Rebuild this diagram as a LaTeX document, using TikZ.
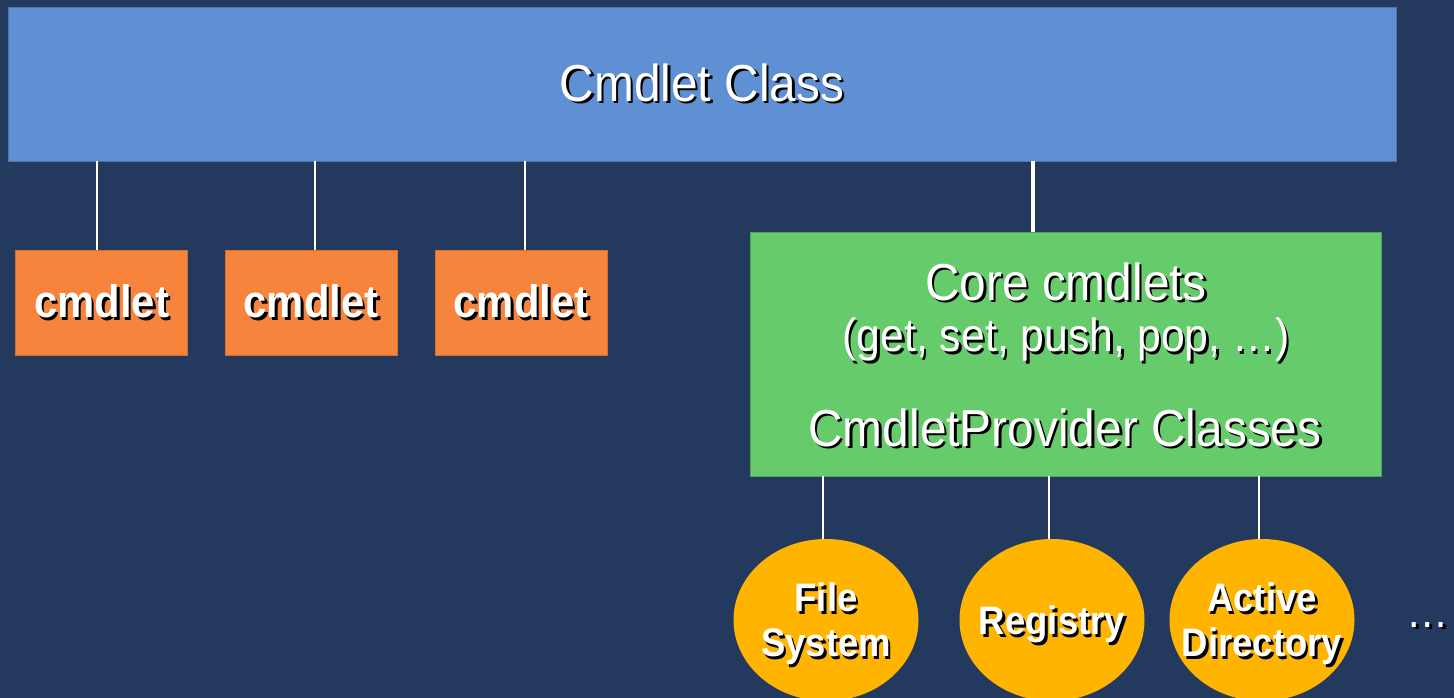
\documentclass[tikz,border=0pt]{standalone}
\usepackage{fontspec}
\setmainfont{Liberation Sans}[FakeStretch=0.92]
\usetikzlibrary{shapes.geometric}

\definecolor{slidebg}{RGB}{35,57,94}
\definecolor{clsblue}{RGB}{95,144,212}
\definecolor{cmdorange}{RGB}{247,132,60}
\definecolor{provgreen}{RGB}{102,204,107}
\definecolor{drvyellow}{RGB}{255,180,0}

% white text with a dark drop shadow
\newcommand\shtext[1]{\leavevmode\rlap{\kern2.5pt\raisebox{-2.5pt}{\color{black}#1}}#1}

\begin{document}
\begin{tikzpicture}[x=1pt,y=-1pt,
  classbox/.style={rectangle,inner sep=0pt,fill=clsblue,draw=clsblue!80!black,line width=0.6pt,
    minimum width=1388pt,minimum height=154pt,text=white,font=\fontsize{52}{60}\selectfont},
  cmdbox/.style={rectangle,inner sep=0pt,fill=cmdorange,draw=cmdorange!85!black,line width=0.6pt,
    minimum width=172pt,minimum height=105pt,text=white,font=\fontsize{45.5}{52}\selectfont\bfseries},
  provbox/.style={rectangle,inner sep=0pt,fill=provgreen,draw=provgreen!80!black,line width=0.6pt,
    minimum width=631pt,minimum height=244pt},
  drive/.style={ellipse,inner sep=0pt,fill=drvyellow,minimum width=185pt,minimum height=162pt},
  drivename/.style={inner sep=0pt,text=white,align=center,font=\fontsize{39.7}{45}\selectfont\bfseries},
  lbl/.style={inner sep=0pt,text=white},
  link/.style={draw=white,line width=1.5pt},
  mainlink/.style={draw=white,line width=4pt}]

\fill[slidebg] (0,0) rectangle (1454,698);
\useasboundingbox (0,0) rectangle (1454,698);

\node[classbox] (cls) at (702,84) {\shtext{Cmdlet Class}};

% the three stand-alone cmdlets
\foreach \i/\x/\d in {1/101.5/-4.5,2/311/4,3/521/4}
{
 \node[cmdbox] (cmd\i) at (\x,302.5) {\shtext{cmdlet}};
 \draw[link] ([xshift=\d pt]cmd\i.north) -- ([xshift=\d pt]cmd\i.north |- cls.south);
}

% core cmdlets and the provider classes
\node[provbox] (core) at (1065.5,354) {};
\node[lbl,font=\fontsize{52}{60}\selectfont] (corename) at (1066,283) {\shtext{Core cmdlets}};
\node[lbl,font=\fontsize{46.5}{54}\selectfont] (corelist) at (1066,341) {\shtext{(get, set, push, pop, …)}};
\node[lbl,font=\fontsize{52}{60}\selectfont] (provname) at (1065,429) {\shtext{CmdletProvider Classes}};
\draw[mainlink] ([xshift=-32.5pt]core.north) -- ([xshift=-32.5pt]core.north |- cls.south);

% providers
\node[drive] (fs) at (826,620) {};
\node[drive] (reg) at (1052,620) {};
\node[drive] (ad) at (1262,620) {};
\node[drivename] (fsname) at (826,625) {\shtext{File}\\\shtext{System}};
\node[drivename] (regname) at (1052,626) {\shtext{Registry}};
\node[drivename] (adname) at (1262,625) {\shtext{Active}\\\shtext{Directory}};
\foreach \p in {fs,reg,ad}
 \draw[link] ([xshift=-3pt]\p.north) -- ([xshift=-3pt]\p.north |- core.south);

\node[lbl,font=\fontsize{46}{52}\selectfont] (more) at (1428,626) {\shtext{…}};

\end{tikzpicture}
\end{document}
